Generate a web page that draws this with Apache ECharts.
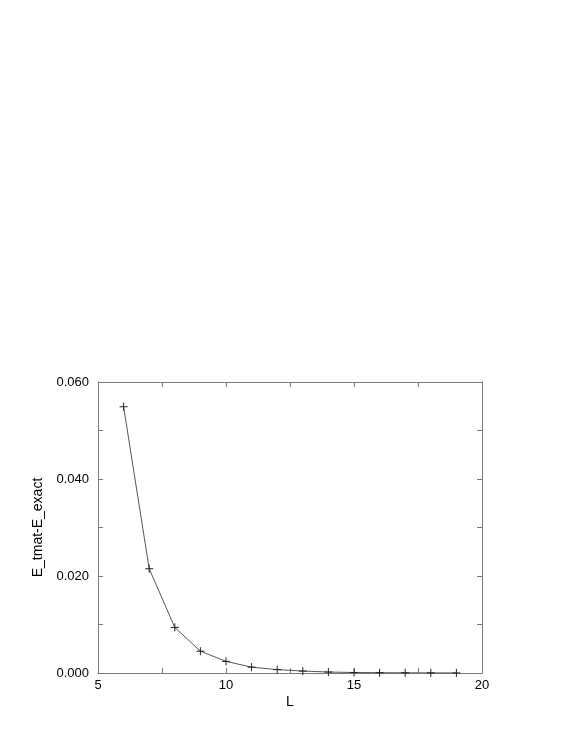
<!DOCTYPE html>
<html>
<head>
<meta charset="utf-8">
<script src="https://cdn.jsdelivr.net/npm/echarts@6/dist/echarts.min.js"></script>
<style>
    html, body { margin: 0; padding: 0; background: #fff; }
    #chart { width: 581px; height: 752px; }
</style>
</head>
<body>
<div id="chart"></div>
<script>
// Data
const sizes = [6, 7, 8, 9, 10, 11, 12, 13, 14, 15, 16, 17, 18, 19];
const energyDiff = [0.0549, 0.0215, 0.0094, 0.0045, 0.0024, 0.0012, 0.0007,
    0.0004, 0.0002, 0.0001, 0.00006, 0.00004, 0.00002, 0.00001];

const font = "'Liberation Sans', Arial, sans-serif";
const axisGray = "#777";

function frameAxis(extra) {
    return Object.assign({
        axisLine: { show: true, onZero: false, lineStyle: { color: axisGray, width: 1 } },
        axisTick: { show: true, inside: true, length: 5, lineStyle: { color: axisGray } },
        minorTick: { show: true, splitNumber: 2, length: 5, lineStyle: { color: axisGray } },
        splitLine: { show: false },
        minorSplitLine: { show: false }
    }, extra);
}

const chart = echarts.init(document.getElementById("chart"));
const option = {
    animation: false,
    backgroundColor: "#fff",
    grid: { left: 98, right: 99, top: 382, bottom: 79 },
    xAxis: [
        frameAxis({
            type: "value", position: "bottom", min: 5, max: 20, interval: 5,
            name: "L", nameLocation: "middle", nameGap: 22,
            nameTextStyle: { fontFamily: font, fontSize: 14, color: "#000" },
            axisLabel: { fontFamily: font, fontSize: 13, color: "#000", margin: 6 }
        }),
        frameAxis({
            type: "value", position: "top", min: 5, max: 20, interval: 5,
            axisLabel: { show: false }
        })
    ],
    yAxis: [
        frameAxis({
            type: "value", position: "left", min: 0, max: 0.06, interval: 0.02,
            name: "E_tmat-E_exact", nameLocation: "middle", nameGap: 53,
            nameTextStyle: { fontFamily: font, fontSize: 14, color: "#000" },
            axisLabel: {
                fontFamily: font, fontSize: 13, color: "#000", margin: 9,
                formatter: v => v.toFixed(3)
            }
        }),
        frameAxis({
            type: "value", position: "right", min: 0, max: 0.06, interval: 0.02,
            axisLabel: { show: false }
        })
    ],
    series: [{
        type: "line",
        xAxisIndex: 0,
        yAxisIndex: 0,
        data: sizes.map((l, i) => [l, energyDiff[i]]),
        symbol: "path://M0,4L8,4M4,0L4,8",
        symbolSize: 8,
        itemStyle: { color: "none", borderColor: "#222", borderWidth: 1 },
        lineStyle: { color: "#555", width: 1 }
    }]
};
chart.setOption(option);
</script>
</body>
</html>
